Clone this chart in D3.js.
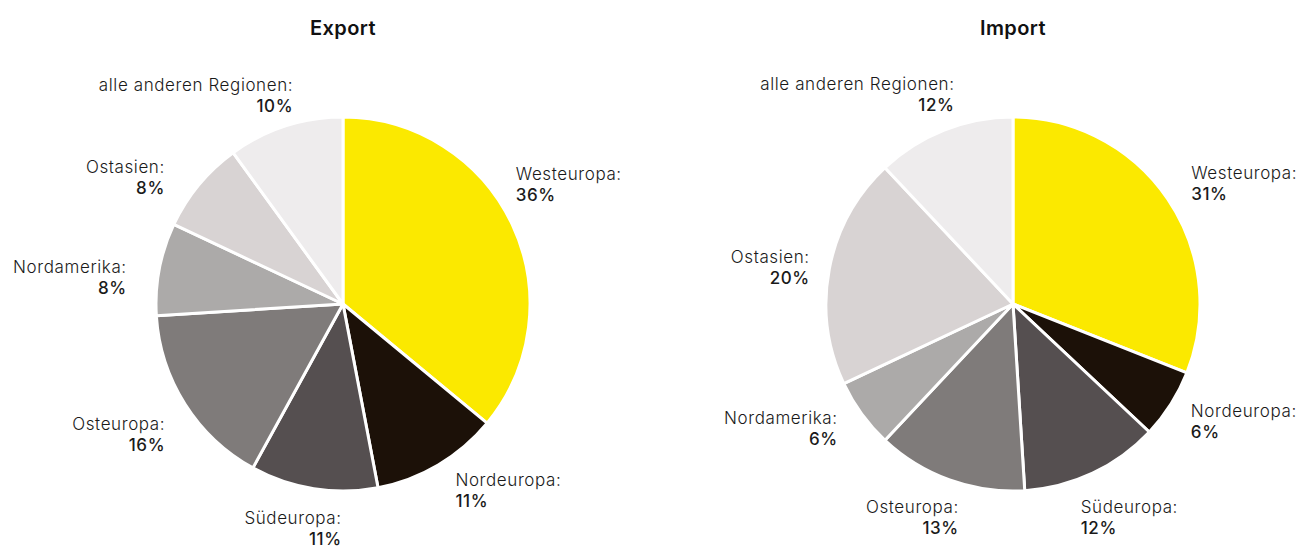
<!DOCTYPE html>
<html>
<head>
<meta charset="utf-8">
<script src="https://cdn.jsdelivr.net/npm/d3@7"></script>
<style>
  html, body { margin: 0; padding: 0; background: #fff; }
  svg { display: block; font-family: Inter, "Noto Sans", sans-serif; }
</style>
</head>
<body>
<svg id="chart" width="1314" height="548"></svg>
<script>
// Regions, in drawing order (clockwise from 12 o'clock)
const regions = ["Westeuropa", "Nordeuropa", "Südeuropa", "Osteuropa", "Nordamerika", "Ostasien", "alle anderen Regionen"];
// Shares in percent
const exportShares = [36, 11, 11, 16, 8, 8, 10];
const importShares = [31, 6, 12, 13, 6, 20, 12];
const chartTitles = ["Export", "Import"];
const regionColors = ["#fbe900", "#1c1108", "#554f50", "#7f7b7a", "#acaaa9", "#d8d3d3", "#eeeced"];

// Hand-tuned label nudges (px) relative to the outer label ring, one per region
const exportLabelShift = [[-20, -33], [4, -1], [32, 10], [2, 12], [-7, 9], [-14, 5], [16, -10]];
const importLabelShift = [[2, -5], [-2, -1], [-23, 16], [18, 9], [-3, -5], [6, -1], [20, -16]];

const svg = d3.select("#chart");
const radius = 187;
const centers = [[343, 304], [1013, 304]];

const color = d3.scaleOrdinal().domain(regions).range(regionColors);
const pie = d3.pie().sort(null).value(d => d.value);
const arc = d3.arc().innerRadius(0).outerRadius(radius);
const labelArc = d3.arc().innerRadius(radius + 26).outerRadius(radius + 26);

[[exportShares, exportLabelShift], [importShares, importLabelShift]].forEach(([shares, shifts], i) => {
  const [cx, cy] = centers[i];
  const rows = regions.map((r, j) => ({ region: r, value: shares[j], shift: shifts[j] }));
  const g = svg.append("g").attr("transform", `translate(${cx},${cy})`);

  svg.append("text")
    .attr("x", cx).attr("y", 35)
    .attr("text-anchor", "middle")
    .attr("font-size", 20).attr("font-weight", 600)
    .attr("letter-spacing", 0.4)
    .attr("fill", "#111")
    .text(chartTitles[i]);

  const arcs = pie(rows);

  g.selectAll("path.slice").data(arcs).join("path")
    .attr("class", "slice")
    .attr("d", arc)
    .attr("fill", d => color(d.data.region))
    .attr("stroke", "#fff")
    .attr("stroke-width", 3)
    .attr("stroke-linejoin", "round");

  const labels = g.selectAll("text.lbl").data(arcs).join("text")
    .attr("class", "lbl")
    .attr("font-size", 17)
    .attr("letter-spacing", 0.6)
    .attr("fill", "#1a1a1a")
    .attr("text-anchor", d => {
      const mid = (d.startAngle + d.endAngle) / 2;
      return Math.sin(mid) >= 0 ? "start" : "end";
    })
    .attr("transform", d => {
      const [x, y] = labelArc.centroid(d);
      return `translate(${x + d.data.shift[0]},${y + d.data.shift[1]})`;
    });

  labels.append("tspan")
    .attr("x", 0).attr("y", 0)
    .attr("font-weight", 300)
    .text(d => d.data.region + ":");
  labels.append("tspan")
    .attr("x", 0).attr("y", 21)
    .attr("font-weight", 500)
    .text(d => d.data.value + "%");
});
</script>
</body>
</html>
